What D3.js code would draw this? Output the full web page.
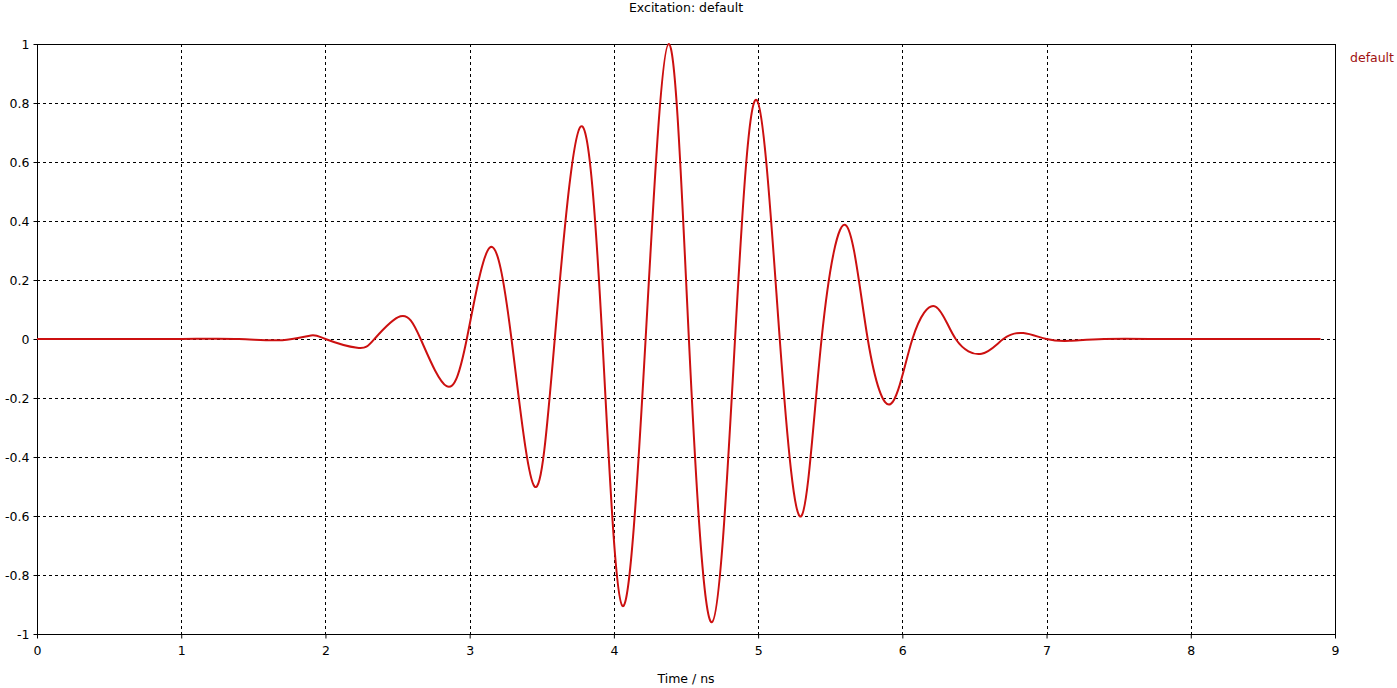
<!DOCTYPE html>
<html><head><meta charset="utf-8">
<script src="https://cdn.jsdelivr.net/npm/d3@7"></script>
<style>body{margin:0;background:#fff;}svg{display:block;font-family:"DejaVu Sans",Verdana,sans-serif;}</style>
</head><body>
<script>
const title = "Excitation: default";
const xLabel = "Time / ns";
const seriesName = "default";
const xTicks = [0,1,2,3,4,5,6,7,8,9];
const yTicks = [-1,-0.8,-0.6,-0.4,-0.2,0,0.2,0.4,0.6,0.8,1];
// time (ns)
const times = [0,0.5,1.0,1.4,1.7,1.9,2.0,2.22,2.34,2.52,2.66,2.84,2.98,3.14,3.29,3.45,3.59,3.77,3.92,4.06,4.22,4.38,4.52,4.68,4.84,4.99,5.15,5.30,5.44,5.61,5.76,5.92,6.07,6.23,6.37,6.55,6.70,6.84,7.0,7.16,7.4,7.8,8.2,8.6,8.9];
const values = [0,0,0,0,-0.004,0.012,0,-0.03,0,0.077,0,-0.16,0,0.31,0,-0.50,0,0.72,0,-0.905,0,1.0,0,-0.96,0,0.81,0,-0.60,0,0.385,0,-0.22,0,0.11,0,-0.05,0,0.02,0,-0.006,0,0,0,0,0];

const W=1397,H=688;
const m={l:37,r:62,t:44,b:54};
const FS=12.5, FF="DejaVu Sans, Verdana, sans-serif";
const svg=d3.select("body").append("svg").attr("width",W).attr("height",H);
const x=d3.scaleLinear().domain([0,9]).range([m.l,W-m.r]);
const y=d3.scaleLinear().domain([-1,1]).range([H-m.b,m.t]);

// grid
svg.append("g").selectAll("line").data(xTicks.slice(1,-1)).join("line")
 .attr("x1",d=>Math.round(x(d))+0.5).attr("x2",d=>Math.round(x(d))+0.5)
 .attr("y1",m.t).attr("y2",H-m.b).attr("stroke","#000").attr("stroke-dasharray","3,3");
svg.append("g").selectAll("line").data(yTicks.slice(1,-1)).join("line")
 .attr("y1",d=>Math.round(y(d))+0.5).attr("y2",d=>Math.round(y(d))+0.5)
 .attr("x1",m.l).attr("x2",W-m.r).attr("stroke","#000").attr("stroke-dasharray","3,3");

// axes
const xAxis=d3.axisBottom(x).tickValues(xTicks).tickSize(4).tickPadding(8).tickFormat(d3.format("d"));
const gx=svg.append("g").attr("transform",`translate(0,${H-m.b+0.5})`).call(xAxis);
const yAxis=d3.axisLeft(y).tickValues(yTicks).tickSize(4).tickPadding(4).tickFormat(d=>String(+d.toFixed(1)));
const gy=svg.append("g").attr("transform",`translate(${m.l+0.5},0)`).call(yAxis);
[gx,gy].forEach(g=>{g.select(".domain").remove();g.selectAll("text").attr("font-size",FS).attr("fill","#000").attr("font-family",FF);g.selectAll("line").attr("stroke","#000");});

// frame
svg.append("rect").attr("x",m.l+0.5).attr("y",m.t+0.5).attr("width",W-m.r-m.l).attr("height",H-m.b-m.t)
 .attr("fill","none").attr("stroke","#000").attr("stroke-width",1);

// line
const data=times.map((t,i)=>({t,v:values[i]}));
svg.append("path").datum(data).attr("fill","none").attr("stroke","#cc1010").attr("stroke-width",2)
 .attr("d",d3.line().x(d=>x(d.t)).y(d=>y(d.v)).curve(d3.curveNatural));

// texts
svg.append("text").attr("x",686).attr("y",12).attr("text-anchor","middle").attr("font-size",FS).text(title);
svg.append("text").attr("x",686).attr("y",683).attr("text-anchor","middle").attr("font-size",FS).text(xLabel);
svg.append("text").attr("x",1350).attr("y",62).attr("font-size",FS).attr("fill","#a01010").text(seriesName);
</script>
</body></html>
